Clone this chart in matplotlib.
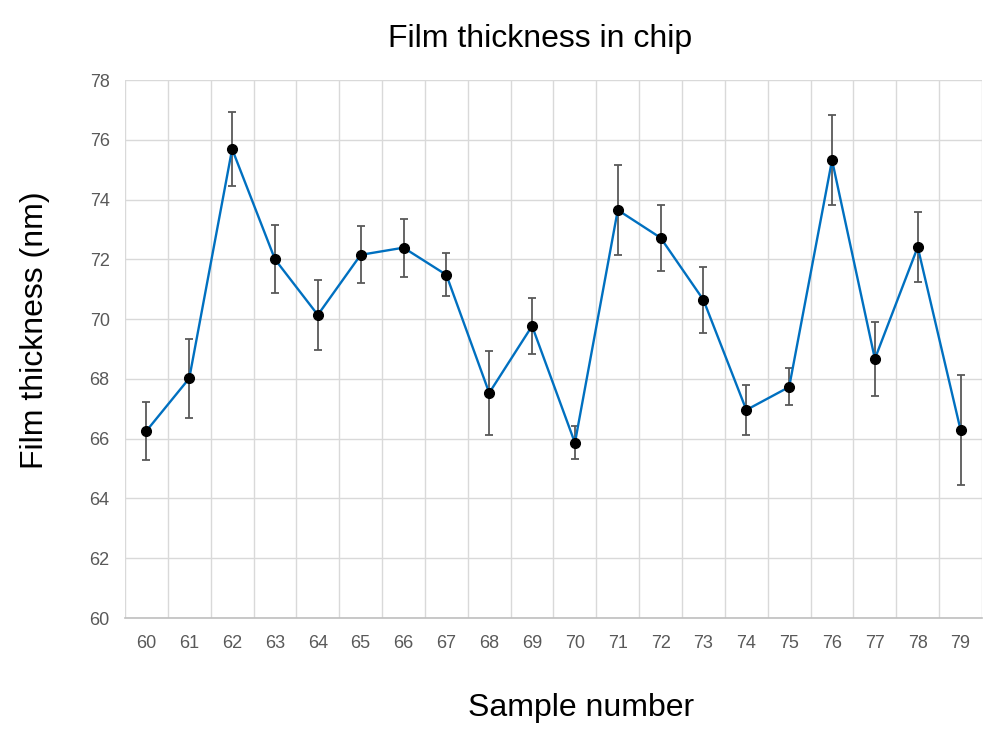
import numpy as np
import matplotlib.pyplot as plt
from matplotlib.ticker import MultipleLocator

# sample numbers and measured film thickness (nm) with error
samples = list(range(60, 80))
thickness = [66.26, 68.02, 75.69, 72.00, 70.14, 72.15, 72.39, 71.48, 67.53, 69.77,
             65.86, 73.65, 72.72, 70.64, 66.96, 67.73, 75.32, 68.67, 72.41, 66.29]
err = [0.97, 1.32, 1.25, 1.14, 1.18, 0.95, 0.97, 0.72, 1.40, 0.93,
       0.55, 1.52, 1.10, 1.12, 0.84, 0.62, 1.50, 1.24, 1.17, 1.84]

plt.rcParams['font.family'] = ['Liberation Sans', 'DejaVu Sans']

fig = plt.figure(figsize=(10.04, 7.47), dpi=100)
ax = fig.add_axes([125/1004, 1 - 618/747, (982-125)/1004, (618-80)/747])

x = np.arange(len(samples))
ax.errorbar(x, thickness, yerr=err, fmt='none', ecolor='#595959',
            elinewidth=1.3, capsize=3, capthick=1.3, zorder=3)
ax.plot(x, thickness, color='#0070C0', lw=1.7, zorder=4)
ax.plot(x, thickness, 'o', color='black', ms=7, zorder=5)

ax.set_xlim(-0.5, len(samples) - 0.5)
ax.set_ylim(60, 78)
ax.yaxis.set_major_locator(MultipleLocator(2))
ax.set_xticks(x)
ax.set_xticklabels([str(s) for s in samples])
ax.set_xticks(np.arange(-0.5, len(samples)), minor=True)

ax.grid(axis='y', which='major', color='#D9D9D9', lw=1)
ax.grid(axis='x', which='minor', color='#D9D9D9', lw=1)
ax.grid(axis='x', which='major', visible=False)
ax.set_axisbelow(True)

for s in ['top', 'right', 'left']:
    ax.spines[s].set_visible(False)
ax.spines['bottom'].set_color('#BFBFBF')
ax.spines['bottom'].set_linewidth(1.2)

ax.tick_params(axis='both', which='both', length=0, labelsize=13, colors='#595959')
ax.tick_params(axis='y', pad=11)
ax.tick_params(axis='x', pad=12)

fig.text(540/1004, 1 - 47/747, 'Film thickness in chip', ha='center', va='baseline',
         fontsize=23, color='black')
fig.text(581/1004, 1 - 716/747, 'Sample number', ha='center', va='baseline',
         fontsize=23, color='black')
fig.text(35/1004, 1 - 330/747, 'Film thickness (nm)', ha='center', va='center',
         rotation=90, fontsize=23, color='black')

plt.savefig('out.png', dpi=100)
plt.close()
